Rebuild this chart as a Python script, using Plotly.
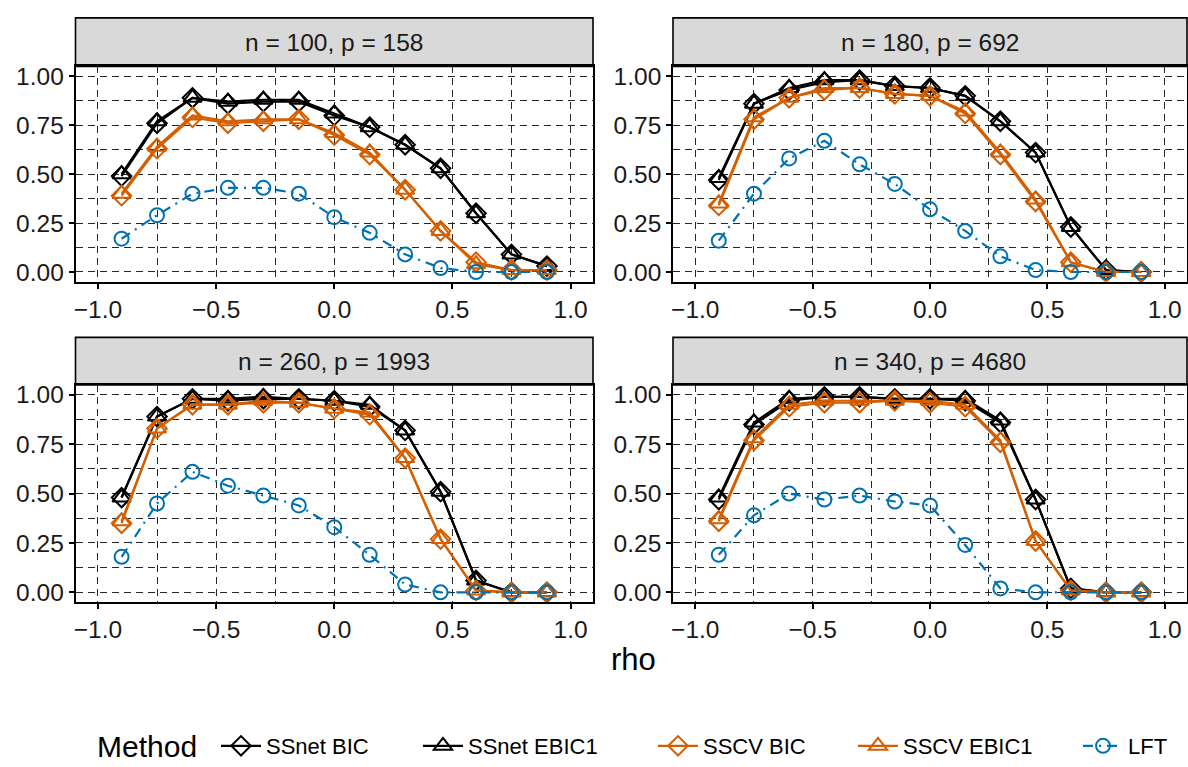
import plotly.graph_objects as go

rho = [-0.9, -0.75, -0.6, -0.45, -0.3, -0.15, 0.0, 0.15, 0.3, 0.45, 0.6, 0.75, 0.9]
panels = ["n = 100, p = 158", "n = 180, p = 692", "n = 260, p = 1993", "n = 340, p = 4680"]
methods = ["SSnet BIC", "SSnet EBIC1", "SSCV BIC", "SSCV EBIC1", "LFT"]

ssnet_bic = [
    [0.49, 0.76, 0.89, 0.86, 0.87, 0.87, 0.80, 0.74, 0.65, 0.53, 0.30, 0.09, 0.03],
    [0.47, 0.86, 0.93, 0.97, 0.98, 0.95, 0.94, 0.90, 0.77, 0.61, 0.23, 0.01, 0.00],
    [0.48, 0.89, 0.98, 0.97, 0.98, 0.98, 0.97, 0.94, 0.82, 0.51, 0.06, 0.00, 0.00],
    [0.47, 0.85, 0.97, 0.99, 0.99, 0.98, 0.98, 0.97, 0.86, 0.47, 0.02, 0.00, 0.00],
]
ssnet_ebic1 = [
    [0.50, 0.77, 0.89, 0.87, 0.88, 0.88, 0.81, 0.74, 0.65, 0.53, 0.30, 0.09, 0.03],
    [0.48, 0.86, 0.94, 0.98, 0.98, 0.95, 0.94, 0.90, 0.77, 0.61, 0.23, 0.01, 0.00],
    [0.48, 0.89, 0.98, 0.98, 0.99, 0.98, 0.97, 0.95, 0.82, 0.51, 0.06, 0.00, 0.00],
    [0.48, 0.86, 0.98, 0.99, 0.99, 0.98, 0.98, 0.98, 0.87, 0.47, 0.02, 0.00, 0.00],
]
sscv_bic = [
    [0.39, 0.63, 0.79, 0.76, 0.77, 0.78, 0.70, 0.60, 0.42, 0.21, 0.05, 0.01, 0.01],
    [0.34, 0.78, 0.89, 0.93, 0.94, 0.91, 0.90, 0.81, 0.60, 0.36, 0.05, 0.00, 0.00],
    [0.35, 0.83, 0.95, 0.95, 0.96, 0.96, 0.93, 0.90, 0.68, 0.27, 0.01, 0.00, 0.00],
    [0.36, 0.77, 0.94, 0.96, 0.96, 0.97, 0.96, 0.94, 0.76, 0.26, 0.01, 0.00, 0.00],
]
sscv_ebic1 = [
    [0.40, 0.64, 0.80, 0.77, 0.78, 0.78, 0.71, 0.61, 0.42, 0.21, 0.04, 0.01, 0.01],
    [0.35, 0.79, 0.89, 0.94, 0.94, 0.91, 0.90, 0.82, 0.61, 0.37, 0.05, 0.00, 0.00],
    [0.36, 0.83, 0.95, 0.95, 0.97, 0.96, 0.93, 0.91, 0.68, 0.27, 0.01, 0.00, 0.00],
    [0.37, 0.78, 0.95, 0.97, 0.97, 0.97, 0.97, 0.95, 0.77, 0.26, 0.01, 0.00, 0.00],
]
lft = [
    [0.17, 0.29, 0.40, 0.43, 0.43, 0.40, 0.28, 0.20, 0.09, 0.02, 0.00, 0.00, 0.00],
    [0.16, 0.40, 0.58, 0.67, 0.55, 0.45, 0.32, 0.21, 0.08, 0.01, 0.00, 0.00, 0.00],
    [0.18, 0.45, 0.61, 0.54, 0.49, 0.44, 0.33, 0.19, 0.04, 0.00, 0.00, 0.00, 0.00],
    [0.19, 0.39, 0.50, 0.47, 0.49, 0.46, 0.44, 0.24, 0.02, 0.00, 0.00, 0.00, 0.00],
]
x_ticks = [-1.0, -0.5, 0.0, 0.5, 1.0]
y_ticks = [0.0, 0.25, 0.5, 0.75, 1.0]

series = [ssnet_bic, ssnet_ebic1, sscv_bic, sscv_ebic1, lft]
colors = ["black", "black", "#D55E00", "#D55E00", "#0072B2"]
symbols = ["diamond-open", "triangle-up-open", "diamond-open", "triangle-up-open", "circle-open"]
sizes = [15, 16, 15, 16, 14]
dashes = ["solid", "solid", "solid", "solid", "10px,6px,2px,6px"]

W, H = 1188, 767
# panel pixel boxes (left, right) and (top, bottom, strip top)
cols = [(75.5, 593), (673, 1187)]
rows = [(67, 284, 18), (388, 607, 340)]
legend_text_left = [268, 470, 705, 905, 1130]
legend_names = ["legend", "legend2", "legend3", "legend4", "legend5"]
LEG_Y = 752


def fy(px):
    return 1 - px / H


FONT = "Liberation Sans, Arial, sans-serif"
TXT = 24.5
LEG_TXT = 22
GRID = "#262626"
GDASH = "7px,5px"
fig = go.Figure()

for k in range(4):
    r, c = divmod(k, 2)
    xl, xr = cols[c]
    yt, yb, ys = rows[r]
    ax = "" if k == 0 else str(k + 1)
    common = dict(
        ticks="outside", ticklen=5, tickwidth=1.5, tickcolor="black",
        showline=True, mirror=True, linecolor="black", linewidth=1.6,
        showgrid=True, gridcolor=GRID, gridwidth=1, griddash=GDASH,
        zeroline=False, tickfont=dict(size=TXT, color="#1a1a1a", family=FONT),
        automargin=False,
    )
    fig.update_layout(**{
        "xaxis" + ax: dict(
            domain=[xl / W, xr / W], range=[-1.095, 1.095], anchor="y" + ax,
            tickvals=x_ticks, tickformat=".1f",
            minor=dict(dtick=0.25, tick0=0, showgrid=True, gridcolor=GRID, gridwidth=1,
                       griddash=GDASH, ticks=""),
            **common,
        ),
        "yaxis" + ax: dict(
            domain=[fy(yb), fy(yt)], range=[-0.05, 1.05], anchor="x" + ax,
            tickvals=y_ticks, tickformat=".2f",
            minor=dict(dtick=0.125, tick0=0, showgrid=True, gridcolor=GRID, gridwidth=1,
                       griddash=GDASH, ticks=""),
            **common,
        ),
    })
    for m, name in enumerate(methods):
        fig.add_trace(go.Scatter(
            x=rho, y=series[m][k], mode="lines+markers", name=name,
            legendgroup=name, showlegend=(k == 0), legend=legend_names[m],
            xaxis="x" + ax, yaxis="y" + ax,
            line=dict(color=colors[m], width=2.2, dash=dashes[m]),
            marker=dict(symbol=symbols[m], size=sizes[m], color=colors[m],
                        line=dict(width=2, color=colors[m])),
        ))
    fig.add_shape(type="rect", xref="paper", yref="paper",
                  x0=xl / W, x1=xr / W, y0=fy(yt), y1=fy(ys),
                  fillcolor="#D9D9D9", line=dict(color="black", width=1.6), layer="below")
    fig.add_annotation(text=panels[k], xref="paper", yref="paper",
                       x=(xl + xr) / 2 / W, y=fy((yt + ys) / 2),
                       showarrow=False, xanchor="center", yanchor="middle",
                       font=dict(size=TXT, color="#1a1a1a", family=FONT))

fig.add_annotation(text="rho", xref="paper", yref="paper", x=633 / W, y=fy(665),
                   showarrow=False, xanchor="center", yanchor="middle",
                   font=dict(size=31, color="black", family=FONT))
fig.add_annotation(text="Method", xref="paper", yref="paper", x=95 / W, y=fy(LEG_Y),
                   showarrow=False, xanchor="left", yanchor="middle",
                   font=dict(size=30, color="black", family=FONT))

legend_layout = {}
for m, ln in enumerate(legend_names):
    legend_layout[ln] = dict(
        orientation="h", x=(legend_text_left[m] - 52) / W, xanchor="left",
        y=fy(LEG_Y), yanchor="middle", font=dict(size=LEG_TXT, family=FONT, color="black"),
        itemwidth=40, bgcolor="rgba(0,0,0,0)", borderwidth=0,
    )

fig.update_layout(
    width=W, height=H, autosize=False, margin=dict(l=0, r=0, t=0, b=0),
    plot_bgcolor="white", paper_bgcolor="white", template="none",
    font=dict(family=FONT, color="black"),
    **legend_layout,
)

fig.write_html("out.html", config={"displayModeBar": False, "responsive": False},
               post_script="document.body.style.margin='0px';")
